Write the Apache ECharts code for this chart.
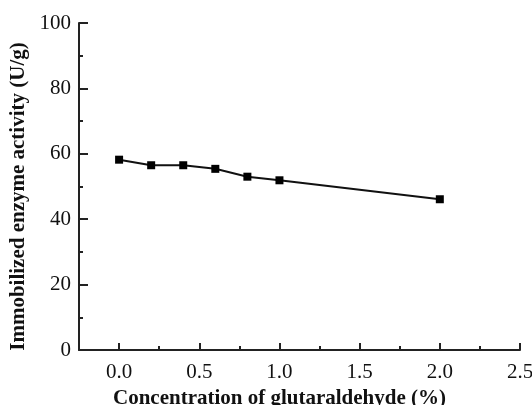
<!DOCTYPE html>
<html>
<head>
<meta charset="utf-8">
<script src="https://cdn.jsdelivr.net/npm/echarts@6/dist/echarts.min.js"></script>
<style>
  html, body { margin: 0; padding: 0; background: #fff; }
  #chart { width: 532px; height: 405px; }
</style>
</head>
<body>
<div id="chart"></div>
<script>
// glutaraldehyde concentration (%) vs immobilized enzyme activity (U/g)
const concentration = [0.0, 0.2, 0.4, 0.6, 0.8, 1.0, 2.0]
const activity = [58.2, 56.5, 56.5, 55.4, 53.0, 51.9, 46.1]
const xMajorTicks = [0, 0.5, 1.0, 1.5, 2.0, 2.5]
const xMinorTicks = [0.25, 0.75, 1.25, 1.75, 2.25]

const font = '"Liberation Serif", "Times New Roman", serif'
const chart = echarts.init(document.getElementById('chart'), null, { renderer: 'canvas' })

const xBase = {
  type: 'value',
  min: -0.25,
  max: 2.5,
  position: 'bottom',
  splitLine: { show: false }
}

chart.setOption({
  animation: false,
  grid: { left: 79, top: 23, right: 12, bottom: 55, containLabel: false, outerBoundsMode: 'none' },
  xAxis: [
    {
      ...xBase,
      name: 'Concentration of glutaraldehyde (%)',
      nameLocation: 'middle',
      nameGap: 38,
      nameTextStyle: { fontFamily: font, fontSize: 21, fontWeight: 'bold', color: '#111', padding: [0, 40, 0, 0] },
      axisLine: { onZero: false, lineStyle: { color: '#222', width: 2 } },
      axisTick: { inside: true, length: 7, customValues: xMajorTicks, lineStyle: { color: '#222', width: 2 } },
      axisLabel: {
        customValues: xMajorTicks,
        margin: 12,
        fontFamily: font,
        fontSize: 21,
        color: '#111',
        formatter: v => v.toFixed(1)
      }
    },
    {
      ...xBase,
      axisLine: { show: false, onZero: false },
      axisTick: { inside: true, length: 4, customValues: xMinorTicks, lineStyle: { color: '#222', width: 2 } },
      axisLabel: { show: false }
    }
  ],
  yAxis: {
    type: 'value',
    min: 0,
    max: 100,
    interval: 20,
    name: 'Immobilized enzyme activity (U/g)',
    nameLocation: 'middle',
    nameGap: 43,
    nameTextStyle: { fontFamily: font, fontSize: 21, fontWeight: 'bold', color: '#111', padding: [0, 20, 0, 0] },
    splitLine: { show: false },
    axisLine: { show: true, onZero: false, lineStyle: { color: '#222', width: 2 } },
    axisTick: { inside: true, length: 9, lineStyle: { color: '#222', width: 2 } },
    minorTick: { show: true, splitNumber: 2, length: 4, lineStyle: { color: '#222', width: 2 } },
    axisLabel: { margin: 8, fontFamily: font, fontSize: 21, color: '#111' }
  },
  series: [
    {
      type: 'line',
      xAxisIndex: 0,
      data: concentration.map((c, i) => [c, activity[i]]),
      symbol: 'rect',
      symbolSize: 8,
      lineStyle: { color: '#111', width: 2 },
      itemStyle: { color: '#000' }
    }
  ]
})
</script>
</body>
</html>
